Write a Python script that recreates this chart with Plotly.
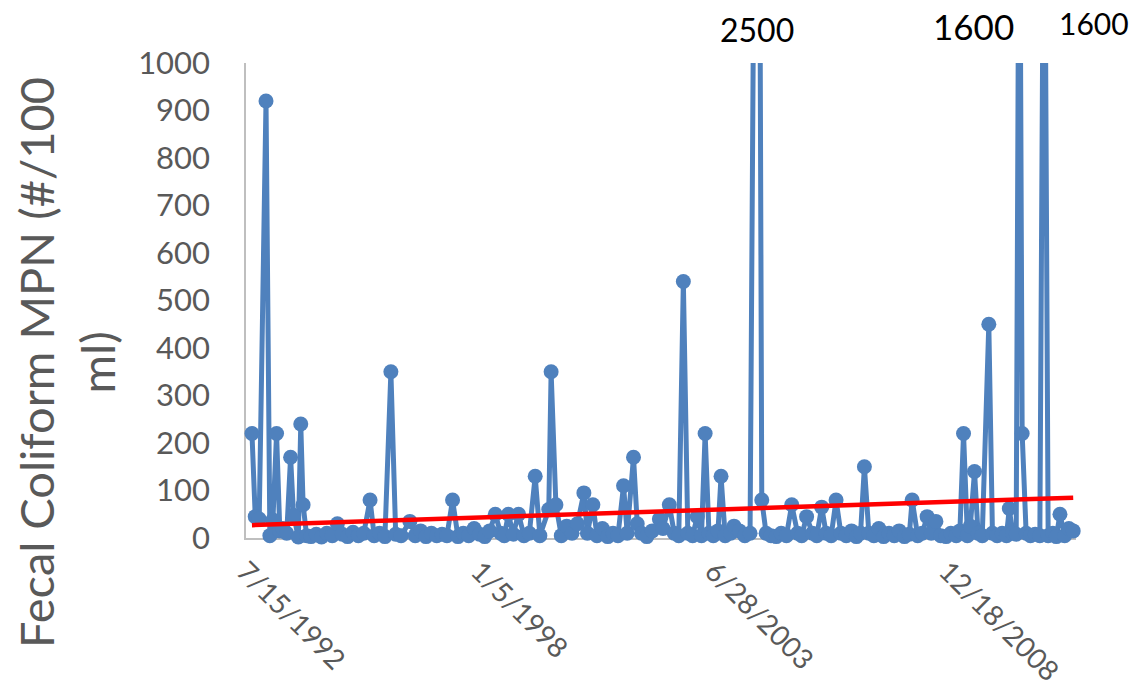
import plotly.graph_objects as go

sample_dates = [
    "1992-07-15", "1992-08-12", "1992-09-15", "1992-11-12", "1992-12-15",
    "1993-01-10", "1993-02-10", "1993-03-10", "1993-04-05", "1993-05-08", "1993-06-10",
    "1993-07-05", "1993-08-15", "1993-09-05", "1993-09-25", "1993-10-25", "1993-12-01",
    "1994-01-15", "1994-03-01", "1994-04-15", "1994-06-01", "1994-07-15", "1994-08-25", "1994-10-10", "1994-11-25",
    "1995-01-10", "1995-02-25", "1995-04-20", "1995-05-25", "1995-07-10", "1995-08-25", "1995-10-15", "1995-11-25",
    "1996-01-10", "1996-03-25", "1996-05-10", "1996-06-25", "1996-08-10", "1996-09-25", "1996-11-10", "1996-12-25",
    "1997-02-05", "1997-03-25", "1997-05-10", "1997-06-25", "1997-08-10", "1997-09-25", "1997-11-10", "1997-12-25",
    "1998-02-05", "1998-03-25", "1998-05-10", "1998-06-10", "1998-07-15", "1998-08-25", "1998-10-10", "1998-11-25",
    "1999-01-10", "1999-03-01", "1999-04-10", "1999-06-25", "1999-07-15", "1999-08-25", "1999-10-10", "1999-11-25",
    "2000-01-10", "2000-02-25", "2000-04-20", "2000-05-20", "2000-07-06", "2000-08-10", "2000-09-25", "2000-11-10", "2000-12-25",
    "2001-02-05", "2001-03-25", "2001-04-25", "2001-06-18", "2001-07-20", "2001-08-25", "2001-10-10", "2001-11-25",
    "2002-01-25", "2002-02-25", "2002-04-20", "2002-06-01", "2002-07-10", "2002-08-18", "2002-09-25", "2002-11-05", "2002-12-15",
    "2003-01-20", "2003-02-20", "2003-03-25", "2003-05-01", "2003-06-10", "2003-07-06", "2003-08-10", "2003-09-25", "2003-10-25", "2003-12-10",
    "2004-01-25", "2004-03-10", "2004-05-15", "2004-06-18", "2004-07-25", "2004-09-05", "2004-10-20", "2004-12-01",
    "2005-01-15", "2005-03-01", "2005-04-20", "2005-05-25", "2005-07-06", "2005-08-25", "2005-10-01", "2005-11-12", "2005-12-20",
    "2006-02-01", "2006-03-15", "2006-04-25", "2006-06-10", "2006-07-25", "2006-09-05", "2006-10-10", "2006-11-12", "2006-12-20",
    "2007-02-01", "2007-03-15", "2007-04-25", "2007-06-10", "2007-07-25", "2007-09-05", "2007-10-20", "2007-12-01", "2007-12-25",
    "2008-02-10", "2008-03-20", "2008-05-01", "2008-06-05", "2008-07-15", "2008-08-25", "2008-10-10", "2008-11-20",
    "2009-01-05", "2009-02-05", "2009-03-08", "2009-04-10", "2009-05-05", "2009-06-10", "2009-07-10", "2009-08-15",
    "2009-10-10", "2009-11-10", "2009-12-20",
    "2010-02-01", "2010-03-10", "2010-04-03", "2010-05-01", "2010-06-01", "2010-06-28", "2010-07-22", "2010-08-25",
    "2010-10-01", "2010-11-10", "2010-12-20",
    "2011-01-26", "2011-03-01", "2011-04-10", "2011-05-10", "2011-06-10", "2011-07-20", "2011-08-25", "2011-10-01",
]

fecal_coliform = [
    220, 45, 40, 920, 5,
    38, 220, 15, 20, 10, 170, 48, 2, 240, 70, 5, 3,
    8, 2, 10, 5, 30, 8, 3, 12,
    5, 10, 80, 5, 10, 3, 350, 8,
    5, 35, 5, 15, 3, 10, 5, 8,
    5, 80, 3, 10, 5, 20, 8, 3,
    15, 50, 10, 5, 50, 8, 50, 5,
    10, 130, 5, 60, 350, 70, 5, 25,
    10, 30, 95, 10, 70, 5, 20, 3, 10,
    5, 110, 10, 170, 30, 10, 3, 15,
    40, 20, 70, 10, 5, 540, 10, 5, 45,
    5, 220, 10, 5, 15, 130, 5, 10, 25, 15,
    5, 10, 2500, 80, 10, 5, 3, 10,
    5, 70, 10, 5, 45, 10, 5, 65, 10,
    5, 80, 10, 5, 15, 3, 10, 150, 10,
    5, 20, 3, 10, 5, 15, 3, 8, 80,
    5, 10, 45, 10, 35, 5, 3, 10,
    5, 15, 220, 5, 25, 140, 10, 5, 450, 10, 5,
    10, 5, 62, 10, 8, 1600, 220, 10, 5, 8, 5,
    1600, 5, 10, 3, 50, 5, 20, 15,
]

trend_dates = [sample_dates[0], sample_dates[-1]]
trend_values = [27, 85]

x_tick_dates = ["1992-07-15", "1998-01-05", "2003-06-28", "2008-12-18"]
x_tick_labels = ["7/15/1992", "1/5/1998", "6/28/2003", "12/18/2008"]
y_tick_values = [0, 100, 200, 300, 400, 500, 600, 700, 800, 900, 1000]

off_scale_labels = ["2500", "1600", "1600"]

y_title = "Fecal Coliform MPN (#/100<br>ml)"

BLUE = "#4F81BD"
GRAY_TXT = "#595959"
FONT = "Lato, 'Open Sans', sans-serif"

fig = go.Figure()
fig.add_trace(go.Scatter(
    x=sample_dates, y=fecal_coliform, mode="lines",
    line=dict(color=BLUE, width=5), cliponaxis=True, showlegend=False,
))
fig.add_trace(go.Scatter(
    x=sample_dates, y=fecal_coliform, mode="markers",
    marker=dict(color=BLUE, size=15, line=dict(width=0)),
    cliponaxis=False, showlegend=False,
))
fig.add_trace(go.Scatter(
    x=trend_dates, y=trend_values, mode="lines",
    line=dict(color="#FF0000", width=4.5), cliponaxis=False, showlegend=False,
))

fig.update_layout(
    width=1140, height=690,
    margin=dict(l=246, r=64, t=63, b=152),
    paper_bgcolor="white", plot_bgcolor="white",
    font=dict(family=FONT, color=GRAY_TXT),
    xaxis=dict(
        type="date", range=["1992-05-25", "2011-10-25"], automargin=False,
        tickvals=x_tick_dates, ticktext=x_tick_labels, tickangle=45,
        tickfont=dict(size=28, color=GRAY_TXT, family=FONT),
        showgrid=False, zeroline=False, showline=True, linecolor="#BFBFBF", linewidth=1.5,
        ticks="", ticklabelstandoff=4, ticklabelshift=-7, layer="below traces",
    ),
    yaxis=dict(
        range=[0, 1000], tickvals=y_tick_values, automargin=False,
        tickfont=dict(size=31, color=GRAY_TXT, family=FONT),
        showgrid=False, zeroline=False, showline=True, linecolor="#BFBFBF", linewidth=1.5,
        ticks="", ticklabelstandoff=28, layer="below traces",
    ),
)

fig.add_annotation(
    text=y_title, textangle=-90, xref="paper", yref="paper",
    x=-0.217, y=0.3705, xanchor="center", yanchor="middle", showarrow=False,
    font=dict(size=47, color=GRAY_TXT, family=FONT), align="center",
)

label_pos = [(0.6157, 1.0695, 32), (0.877, 1.0779, 35), (1.0217, 1.0842, 30)]
for txt, (px, py, fs) in zip(off_scale_labels, label_pos):
    fig.add_annotation(
        text=txt, xref="paper", yref="paper", x=px, y=py,
        xanchor="center", yanchor="middle", showarrow=False,
        font=dict(size=fs, color="black", family=FONT),
    )

fig.write_html(
    "out.html",
    config={"displayModeBar": False},
    post_script="document.body.style.margin='0';document.body.style.overflow='hidden';",
)
